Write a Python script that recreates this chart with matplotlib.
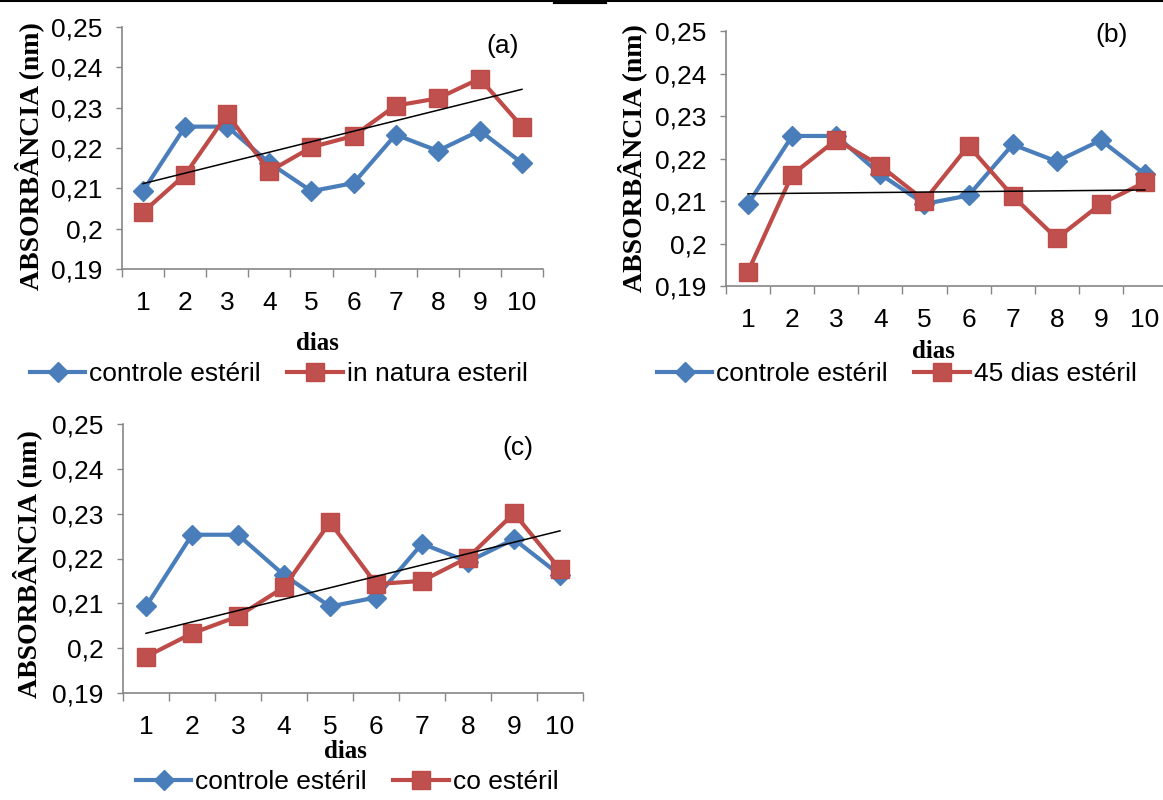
import numpy as np
import matplotlib
matplotlib.use("Agg")
import matplotlib.pyplot as plt
from matplotlib.lines import Line2D

# data
dias = np.arange(1, 11)
controle_esteril = [0.2093, 0.2253, 0.2253, 0.2163, 0.2093, 0.2113, 0.2233, 0.2193, 0.2243, 0.2163]
in_natura_esteril = [0.2041, 0.2134, 0.2284, 0.2142, 0.2202, 0.2230, 0.2305, 0.2323, 0.2372, 0.2253]
dias45_esteril = [0.1934, 0.2162, 0.2244, 0.2183, 0.2101, 0.2230, 0.2112, 0.2012, 0.2093, 0.2144]
co_esteril = [0.1981, 0.2033, 0.2071, 0.2136, 0.2281, 0.2143, 0.2150, 0.2202, 0.2301, 0.2176]
y_ticks = [0.19, 0.20, 0.21, 0.22, 0.23, 0.24, 0.25]

BLUE = "#4A7EBB"
RED = "#BE4B48"
RED_FILL = "#C0504D"
AXIS = "#868686"
W, H = 1163, 800

plt.rcParams['font.family'] = ['Liberation Sans', 'DejaVu Sans']

fig = plt.figure(figsize=(W / 100, H / 100), dpi=100)


def box(l, r, t, b):
    return [l / W, 1 - b / H, (r - l) / W, (b - t) / H]


def fmt(v):
    s = f"{v:.2f}".rstrip("0").rstrip(".")
    return s.replace(".", ",")


def panel(pos, red, red_label, tag, tag_xy, dias_xy, leg_xy, ylab_xy):
    ax = fig.add_axes(box(*pos))
    ax.plot(dias, controle_esteril, color=BLUE, lw=3, marker="D", ms=10,
            mfc=BLUE, mec=BLUE, label="controle estéril", zorder=3)
    ax.plot(dias, red, color=RED, lw=3, marker="s", ms=12.5,
            mfc=RED_FILL, mec=RED, label=red_label, zorder=4)
    # linear trend of the red series
    k, b = np.polyfit(dias, red, 1)
    ax.plot([1, 10], [k * 1 + b, k * 10 + b], color="black", lw=1.1, zorder=5)

    ax.set_xlim(0.5, 10.5)
    ax.set_ylim(0.19, 0.25)
    ax.set_yticks(y_ticks)
    ax.set_yticklabels([fmt(v) for v in y_ticks])
    ax.set_xticks(np.arange(0.5, 11, 1))
    ax.set_xticklabels([])
    ax.set_xticks(dias, minor=True)
    ax.set_xticklabels([str(d) for d in dias], minor=True)
    ax.tick_params(axis="x", which="major", length=6, width=1, color=AXIS, direction="out")
    ax.tick_params(axis="x", which="minor", length=0, pad=16, labelsize=19)
    ax.tick_params(axis="y", length=4, width=1, color=AXIS, pad=10, labelsize=19)
    for s in ["top", "right"]:
        ax.spines[s].set_visible(False)
    for s in ["left", "bottom"]:
        ax.spines[s].set_color(AXIS)
        ax.spines[s].set_linewidth(1.2)

    fig.text(ylab_xy[0] / W, 1 - ylab_xy[1] / H, "ABSORBÂNCIA (nm)", rotation=90,
             family="Liberation Serif", fontweight="bold", fontsize=20,
             ha="center", va="center")
    fig.text(tag_xy[0] / W, 1 - tag_xy[1] / H, tag, fontsize=19, ha="center", va="center")
    fig.text(dias_xy[0] / W, 1 - dias_xy[1] / H, "dias", family="Liberation Serif",
             fontweight="bold", fontsize=18, ha="center", va="center")
    ax.legend(loc="center left", bbox_to_anchor=(leg_xy[0] / W, 1 - leg_xy[1] / H),
              bbox_transform=fig.transFigure, ncol=2, frameon=False, fontsize=19,
              handlelength=2.1, handletextpad=0.15, columnspacing=1.0,
              borderpad=0, borderaxespad=0)
    return ax


ax_a = panel((122, 543, 27, 269), in_natura_esteril, "in natura esteril", "(a)",
             (503, 46), (317, 344), (30, 374), (29, 156))
ax_b = panel((726, 1167, 31, 286), dias45_esteril, "45 dias estéril", "(b)",
             (1112, 35), (933, 351), (657, 374), (632, 158))
ax_c = panel((123, 583, 424, 693), co_esteril, "co estéril", "(c)",
             (518, 448), (345, 751), (136, 782), (27, 564))

# frame line at the top edge
fig.add_artist(Line2D([0, 1], [0.999, 0.999], color="black", lw=1.5, transform=fig.transFigure))
fig.add_artist(Line2D([555 / W, 605 / W], [0.998, 0.998], color="black", lw=3,
                      transform=fig.transFigure))

fig.savefig("out.png", dpi=100)
